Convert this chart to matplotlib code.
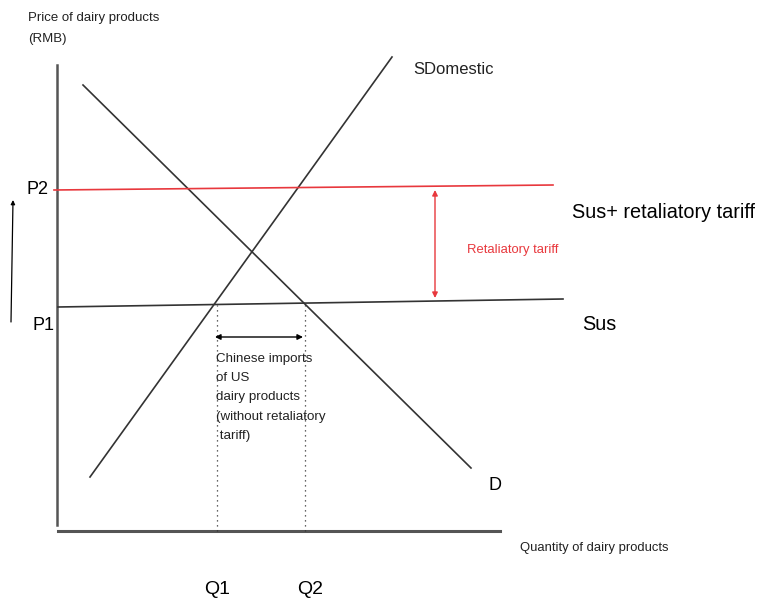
import matplotlib
matplotlib.use("Agg")
from matplotlib import pyplot as plt

plt.rcParams['font.family'] = ['Liberation Sans', 'DejaVu Sans']

# Curvas (quantidade, preço) - origem no canto dos eixos
supply_q = [33, 335]
supply_p = [54, 474]
demand_q = [26, 414]
demand_p = [446, 63]

# Preço mundial (Sus) e com tarifa retaliatória
sus_q = [1, 506]
sus_p = [224, 232]
tariff_q = [-3, 496]
tariff_p = [341, 346]

# Quantidades e preços marcados
Q1, Q2 = 160, 248
P1_label, P2_label = 205, 341

fig = plt.figure(figsize=(7.57, 6.02), dpi=100)
ax = fig.add_axes([0, 0, 1, 1])
ax.set_xlim(-57, 700)
ax.set_ylim(-71, 531)
ax.axis('off')

axis_col = '#555555'
line_col = '#333333'
red = '#e8383d'
txt_col = '#222222'

# Eixos
ax.plot([0, 0], [6, 466], color=axis_col, lw=1.8)
ax.plot([1, 443], [0, 0], color=axis_col, lw=2.2)

# Oferta e demanda
ax.plot(supply_q, supply_p, color=line_col, lw=1.2)
ax.plot(demand_q, demand_p, color=line_col, lw=1.2)

# Linhas de preço
ax.plot(sus_q, sus_p, color=line_col, lw=1.2)
ax.plot(tariff_q, tariff_p, color=red, lw=1.2)

# Seta da tarifa
ax.annotate('', xy=(378, 233), xytext=(378, 341),
            arrowprops=dict(arrowstyle='<|-|>', color=red, lw=1.0,
                            mutation_scale=8, shrinkA=0, shrinkB=0))
ax.text(410, 281, 'Retaliatory tariff', color=red, fontsize=9.4,
        va='center', ha='left')

# Pontilhadas Q1, Q2
ax.plot([Q1, Q1], [0, 226], color=line_col, lw=0.9, ls=(0, (1, 3)))
ax.plot([Q2, Q2], [0, 229], color=line_col, lw=0.9, ls=(0, (1, 3)))

# Seta de importações
ax.annotate('', xy=(158, 194), xytext=(246, 194),
            arrowprops=dict(arrowstyle='<|-|>', color='black', lw=1.0,
                            mutation_scale=8, shrinkA=0, shrinkB=0))
ax.text(159, 178, 'Chinese imports\nof US\ndairy products\n(without retaliatory\n tariff)',
        fontsize=9.6, va='top', ha='left', color=txt_col, linespacing=1.8)

# Seta para cima à esquerda
ax.annotate('', xy=(-44, 331), xytext=(-46, 209),
            arrowprops=dict(arrowstyle='-|>', color='black', lw=0.9,
                            mutation_scale=6, shrinkA=0, shrinkB=0))

# Rótulos
ax.text(-29, 519, 'Price of dairy products\n(RMB)', fontsize=9.5,
        va='top', ha='left', color=txt_col, linespacing=1.95)
ax.text(356, 461, 'SDomestic', fontsize=12, va='center', ha='left', color=txt_col)
ax.text(515, 319, 'Sus+ retaliatory tariff', fontsize=14.3, va='center', ha='left')
ax.text(525, 207, 'Sus', fontsize=14.3, va='center', ha='left')
ax.text(431, 46, 'D', fontsize=13, va='center', ha='left')
ax.text(-31, 341, 'P2', fontsize=13, va='center', ha='left')
ax.text(-24, P1_label, 'P1', fontsize=13, va='center', ha='left')
ax.text(Q1, -59, 'Q1', fontsize=14, va='center', ha='center')
ax.text(Q2 + 5, -59, 'Q2', fontsize=14, va='center', ha='center')
ax.text(463, -17, 'Quantity of dairy products', fontsize=9.4,
        va='center', ha='left', color=txt_col)

fig.savefig('out.png', dpi=100)
